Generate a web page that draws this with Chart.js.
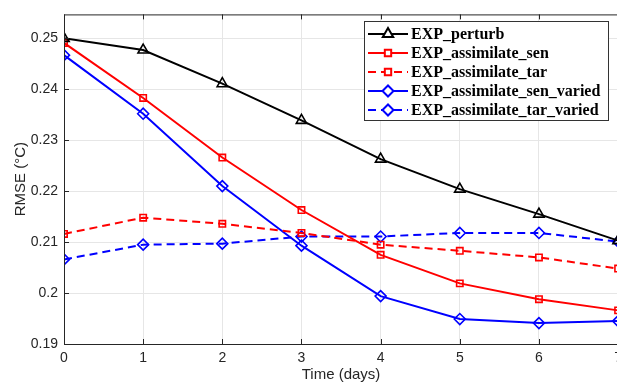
<!DOCTYPE html>
<html>
<head>
<meta charset="utf-8">
<script src="https://cdn.jsdelivr.net/npm/chart.js@4.4.0/dist/chart.umd.min.js"></script>
<style>
  html, body { margin: 0; padding: 0; background: #fff; overflow: hidden; }
  #wrap { position: relative; width: 628px; height: 388px; }
</style>
</head>
<body>
<div id="wrap"><canvas id="c"></canvas></div>
<script>
// days
var days = [0, 1, 2, 3, 4, 5, 6, 7];
var yTicks = [0.19, 0.2, 0.21, 0.22, 0.23, 0.24, 0.25];

// RMSE values
var perturb        = [0.2500, 0.2477, 0.2411, 0.2339, 0.2263, 0.2204, 0.2155, 0.2103];
var assimSen       = [0.2491, 0.2383, 0.2266, 0.2163, 0.2075, 0.2019, 0.1988, 0.1966];
var assimTar       = [0.2116, 0.2148, 0.2136, 0.2118, 0.2095, 0.2083, 0.2070, 0.2048];
var assimSenVaried = [0.2467, 0.2352, 0.2210, 0.2093, 0.1994, 0.1949, 0.1941, 0.1945];
var assimTarVaried = [0.2066, 0.2095, 0.2097, 0.2111, 0.2111, 0.2118, 0.2118, 0.2101];

function ds(label, data, color, style, dashed, r) {
  return {
    label: label,
    data: data,
    borderColor: color,
    backgroundColor: color,
    borderWidth: 2,
    borderDash: dashed ? [8, 5] : [],
    pointStyle: style,
    pointRadius: r,
    pointBorderWidth: 1.6,
    pointBorderColor: color,
    pointBackgroundColor: "rgba(255,255,255,0)",
    tension: 0
  };
}

var datasets = [
  ds("EXP_perturb", perturb, "#000000", "triangle", false, 6),
  ds("EXP_assimilate_sen", assimSen, "#ff0000", "rect", false, 4.5),
  ds("EXP_assimilate_tar", assimTar, "#ff0000", "rect", true, 4.5),
  ds("EXP_assimilate_sen_varied", assimSenVaried, "#0000ff", "rectRot", false, 5.5),
  ds("EXP_assimilate_tar_varied", assimTarVaried, "#0000ff", "rectRot", true, 5.5)
];

// box around the axes + matlab style legend
var boxLegend = {
  id: "boxLegend",
  afterDraw: function (chart) {
    var ctx = chart.ctx, a = chart.chartArea;
    ctx.save();
    ctx.strokeStyle = "#262626";
    ctx.lineWidth = 1;
    ctx.setLineDash([]);
    ctx.strokeRect(a.left + 0.5, a.top + 0.5, a.right - a.left, a.bottom - a.top);
    // inward tick marks
    chart.scales.x.ticks.forEach(function (t) {
      var px = Math.round(chart.scales.x.getPixelForValue(t.value)) + 0.5;
      ctx.beginPath();
      ctx.moveTo(px, a.top);
      ctx.lineTo(px, a.top + 5);
      ctx.moveTo(px, a.bottom);
      ctx.lineTo(px, a.bottom - 5);
      ctx.stroke();
    });
    yTicks.forEach(function (v) {
      var py = Math.round(chart.scales.y.getPixelForValue(v)) + 0.5;
      ctx.beginPath();
      ctx.moveTo(a.left, py);
      ctx.lineTo(a.left + 5, py);
      ctx.stroke();
    });

    var lx = 364, ly = 21, lw = 244, lh = 99;
    ctx.fillStyle = "#fff";
    ctx.fillRect(lx, ly, lw, lh);
    ctx.strokeStyle = "#333";
    ctx.strokeRect(lx + 0.5, ly + 0.5, lw, lh);
    ctx.font = "bold 16px 'Liberation Serif', 'Times New Roman', serif";
    ctx.textBaseline = "middle";
    chart.data.datasets.forEach(function (d, i) {
      var y = ly + 13 + i * 19;
      ctx.strokeStyle = d.borderColor;
      ctx.lineWidth = 2;
      ctx.setLineDash(d.borderDash);
      ctx.beginPath();
      ctx.moveTo(lx + 4, y);
      ctx.lineTo(lx + 44, y);
      ctx.stroke();
      ctx.setLineDash([]);
      ctx.fillStyle = "#fff";
      Chart.helpers.drawPoint(ctx, {
        pointStyle: d.pointStyle, radius: d.pointRadius, rotation: 0,
        borderWidth: d.pointBorderWidth
      }, lx + 24, y);
      ctx.lineWidth = d.pointBorderWidth;
      ctx.strokeStyle = d.borderColor;
      ctx.fillStyle = "#000";
      ctx.fillText(d.label, lx + 47, y + 1);
    });
    ctx.restore();
  }
};

var tickFont = { family: "'Liberation Sans', Arial, sans-serif", size: 14 };
var titleFont = { family: "'Liberation Sans', Arial, sans-serif", size: 15 };

new Chart(document.getElementById("c"), {
  type: "line",
  data: { labels: days, datasets: datasets },
  plugins: [boxLegend],
  options: {
    responsive: true,
    maintainAspectRatio: false,
    animation: false,
    layout: { padding: { top: 11, left: 12, right: 0, bottom: 0 } },
    plugins: { legend: { display: false }, tooltip: { enabled: false } },
    scales: {
      x: {
        type: "linear",
        min: 0, max: 7,
        afterFit: function (s) { s.height = 44; },
        ticks: { stepSize: 1, color: "#262626", font: tickFont, padding: 6 },
        grid: { color: "#e6e6e6", tickLength: 0 },
        border: { display: false },
        title: { display: true, text: "Time (days)", color: "#262626", font: titleFont, padding: { top: 2 } }
      },
      y: {
        min: 0.19, max: 0.2547,
        afterBuildTicks: function (s) { s.ticks = yTicks.map(function (v) { return { value: v }; }); },
        afterFit: function (s) { s.width = 52; },
        ticks: {
          color: "#262626", font: tickFont, padding: 6,
          callback: function (v) { return String(+v.toFixed(2)); }
        },
        grid: { color: "#e6e6e6", tickLength: 0 },
        border: { display: false },
        title: { display: true, text: "RMSE (°C)", color: "#262626", font: titleFont, padding: 0 }
      }
    }
  }
});
</script>
</body>
</html>
